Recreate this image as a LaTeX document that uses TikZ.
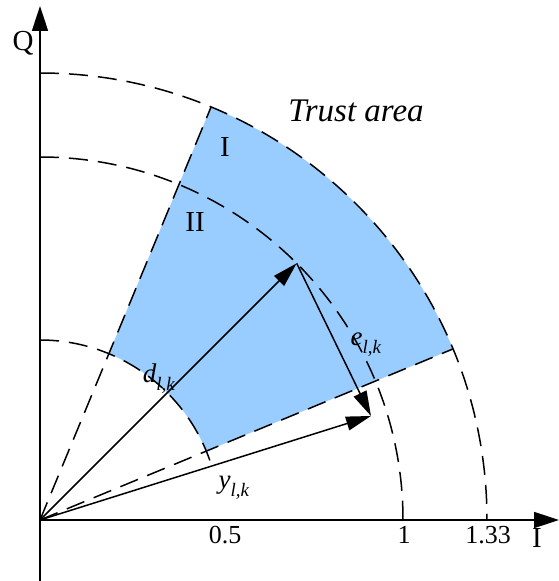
\documentclass[tikz,border=0pt]{standalone}
\usepackage{fontspec}
\setmainfont{Liberation Serif}
\usetikzlibrary{arrows.meta}
\definecolor{trustblue}{RGB}{153,204,255}
\newcommand{\vlab}[2]{\fontsize{27}{27}\selectfont\textit{#1}\raisebox{-0.3em}{\fontsize{19}{19}\selectfont\textit{#2}}}
\tikzset{
  axis/.style={line width=1.6pt,-{Triangle[length=25pt,width=16pt]}},
  vec/.style={line width=1.5pt,-{Triangle[length=25pt,width=14pt]}},
  dsh/.style={line width=1.5pt,dash pattern=on 19pt off 10pt},
  lab/.style={inner sep=0pt,font=\fontsize{29}{29}\selectfont},
  num/.style={inner sep=0pt,font=\fontsize{26}{26}\selectfont}
}
\begin{document}
\begin{tikzpicture}[x=1pt,y=1pt]
\useasboundingbox (-40,-61) rectangle (519,520);
\coordinate (O) at (0,0);
% shaded trust area
\fill[trustblue] (22.5:180) -- (22.5:447) arc[start angle=22.5,end angle=67.5,radius=447] -- (67.5:180) arc[start angle=67.5,end angle=22.5,radius=180] -- cycle;
% arcs
\draw[dsh] (90:180) arc[start angle=90,end angle=17.5,radius=180];
\draw[dsh] (90:363) arc[start angle=90,end angle=0,radius=363];
\draw[dsh] (90:447) arc[start angle=90,end angle=0,radius=447];
% radial edges
\coordinate (OL) at (67.5:447);
\coordinate (OR) at (22.5:447);
\draw[dsh] (O) -- (OL);
\draw[dsh] (O) -- (OR);
% axes
\coordinate (xend) at (519,0);
\coordinate (yend) at (0,514);
\coordinate (ybot) at (0,-61);
\draw[axis] (O) -- (xend);
\draw[axis] (ybot) -- (yend);
% vectors
\coordinate (P) at (45:363);
\coordinate (Y) at (331,104);
\draw[vec] (O) -- (P);
\draw[vec] (P) -- (Y);
\draw[vec] (O) -- (Y);
% labels
\node[lab] (q) at (-17,477) {Q};
\node[lab] (ilab) at (497,-18) {I};
\node[num] (n05) at (185,-15) {0.5};
\node[num] (n1) at (364,-15) {1};
\node[num] (n133) at (448,-15) {1.33};
\node[lab] (r1) at (185,373) {I};
\node[lab] (r2) at (155,298) {II};
\node[inner sep=0pt,font=\fontsize{33}{33}\selectfont\itshape] (ta) at (316,409) {Trust area};
\node[inner sep=0pt] (dl) at (119,141) {\vlab{d}{l,k}};
\node[inner sep=0pt] (el) at (326,175) {\vlab{e}{l,k}};
\node[inner sep=0pt] (yl) at (194,32) {\vlab{y}{l,k}};
\end{tikzpicture}
\end{document}
